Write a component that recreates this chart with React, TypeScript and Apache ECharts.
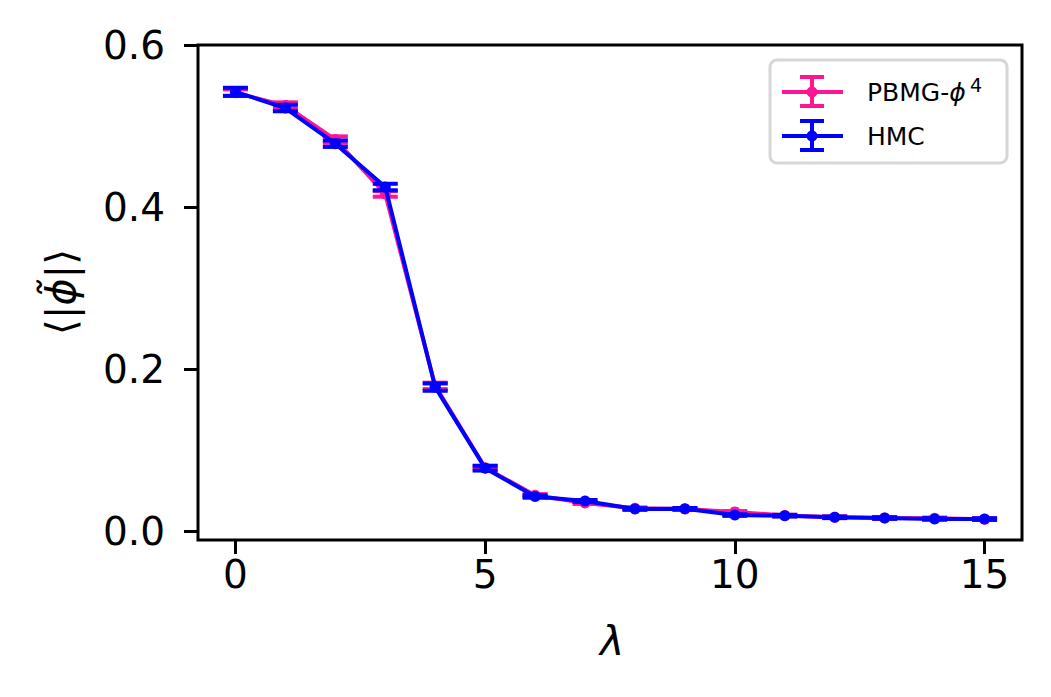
import React, { useEffect, useRef } from "react";
import * as echarts from "echarts";

const lambdas = [0, 1, 2, 3, 4, 5, 6, 7, 8, 9, 10, 11, 12, 13, 14, 15];
const pbmgValues = [0.542, 0.526, 0.484, 0.417, 0.180, 0.079, 0.045, 0.0355, 0.029, 0.028, 0.0245, 0.020, 0.018, 0.017, 0.0165, 0.0155];
const pbmgErrors = [0.004, 0.004, 0.004, 0.0035, 0.004, 0.002, 0.0015, 0.0012, 0.001, 0.001, 0.001, 0.001, 0.001, 0.001, 0.001, 0.001];
const hmcValues = [0.543, 0.523, 0.479, 0.4255, 0.1785, 0.0785, 0.0435, 0.038, 0.028, 0.0283, 0.0206, 0.0198, 0.0178, 0.0169, 0.0158, 0.0157];
const hmcErrors = [0.005, 0.004, 0.004, 0.004, 0.0045, 0.003, 0.0015, 0.0012, 0.001, 0.001, 0.001, 0.001, 0.001, 0.001, 0.001, 0.001];
const xTicks = [0, 5, 10, 15];
const yTicks = [0, 0.2, 0.4, 0.6];

const PINK = "#ff1493";
const BLUE = "#0000ff";
const FONT = "DejaVu Sans";

function errSeries(name: string, values: number[], errors: number[], color: string, z: number) {
  return {
    type: "custom",
    name,
    z,
    data: lambdas.map((x, i) => [x, values[i], errors[i]]),
    encode: { x: 0, y: 1 },
    renderItem: (params: any, api: any) => {
      const x = api.value(0);
      const y = api.value(1);
      const e = api.value(2);
      const t = api.coord([x, y + e]);
      const b = api.coord([x, y - e]);
      const h = 12.5;
      const st = { stroke: color, lineWidth: 4 };
      return {
        type: "group",
        children: [
          { type: "line", shape: { x1: t[0], y1: t[1], x2: b[0], y2: b[1] }, style: st },
          { type: "line", shape: { x1: t[0] - h, y1: t[1], x2: t[0] + h, y2: t[1] }, style: st },
          { type: "line", shape: { x1: b[0] - h, y1: b[1], x2: b[0] + h, y2: b[1] }, style: st },
        ],
      };
    },
  };
}

function lineSeries(name: string, values: number[], color: string, z: number) {
  return {
    type: "line",
    name,
    z,
    data: lambdas.map((x, i) => [x, values[i]]),
    symbol: "circle",
    symbolSize: 11,
    showSymbol: true,
    itemStyle: { color },
    lineStyle: { color, width: 4 },
  };
}

function legendEntry(y: number, color: string) {
  const st = { stroke: color, lineWidth: 4 };
  return [
    { type: "line", shape: { x1: 782, y1: y, x2: 843, y2: y }, style: st, z: 101 },
    { type: "line", shape: { x1: 812, y1: y - 15, x2: 812, y2: y + 14 }, style: st, z: 101 },
    { type: "line", shape: { x1: 800, y1: y - 15, x2: 824, y2: y - 15 }, style: st, z: 101 },
    { type: "line", shape: { x1: 800, y1: y + 14, x2: 824, y2: y + 14 }, style: st, z: 101 },
    { type: "circle", shape: { cx: 812, cy: y, r: 5.5 }, style: { fill: color }, z: 102 },
  ];
}

export default function App() {
  const ref = useRef<HTMLDivElement>(null);
  useEffect(() => {
    if (!ref.current) return;
    const chart = echarts.init(ref.current, null, { renderer: "svg" });
    const labelStyle = { color: "#000", fontSize: 39, fontFamily: FONT, lineHeight: 39 };
    chart.setOption({
      animation: false,
      backgroundColor: "#fff",
      grid: {
        left: 198,
        top: 45,
        width: 824,
        height: 495,
        show: true,
        borderColor: "#000",
        borderWidth: 3,
        backgroundColor: "transparent",
      },
      xAxis: {
        type: "value",
        min: -0.75,
        max: 15.75,
        splitLine: { show: false },
        axisLine: { show: false, onZero: false },
        axisTick: { show: true, customValues: xTicks, length: 14, lineStyle: { color: "#000", width: 3 } },
        axisLabel: { ...labelStyle, customValues: xTicks, margin: 15, formatter: (v: number) => String(v) },
      },
      yAxis: {
        type: "value",
        min: -0.0102,
        max: 0.6008,
        splitLine: { show: false },
        axisLine: { show: false, onZero: false },
        axisTick: { show: true, customValues: yTicks, length: 14, lineStyle: { color: "#000", width: 3 } },
        axisLabel: { ...labelStyle, customValues: yTicks, margin: 33, formatter: (v: number) => v.toFixed(1) },
      },
      series: [
        errSeries("PBMG-err", pbmgValues, pbmgErrors, PINK, 2),
        lineSeries("PBMG-ϕ4", pbmgValues, PINK, 3),
        errSeries("HMC-err", hmcValues, hmcErrors, BLUE, 4),
        lineSeries("HMC", hmcValues, BLUE, 5),
      ],
      graphic: [
        {
          type: "text",
          x: 612,
          y: 641,
          style: {
            text: "λ",
            fontSize: 41,
            fontStyle: "italic",
            fontFamily: FONT,
            fill: "#000",
            align: "center",
            verticalAlign: "middle",
          },
        },
        {
          type: "text",
          x: 61,
          y: 292,
          rotation: Math.PI / 2,
          style: {
            text: "{n|⟨|}{i|ϕ̃}{n||⟩}",
            fontSize: 41,
            fontFamily: FONT,
            fill: "#000",
            align: "center",
            verticalAlign: "middle",
            rich: {
              n: { fontSize: 41, fontFamily: FONT, fill: "#000" },
              i: { fontSize: 41, fontFamily: FONT, fontStyle: "italic", fill: "#000" },
            },
          },
        },
        {
          type: "rect",
          shape: { x: 770, y: 60, width: 237, height: 103, r: 7 },
          style: { fill: "rgba(255,255,255,0.8)", stroke: "#d6d6d6", lineWidth: 3 },
          z: 100,
        },
        ...legendEntry(92, PINK),
        ...legendEntry(136, BLUE),
        {
          type: "text",
          x: 867,
          y: 92,
          z: 103,
          style: {
            text: "{n|PBMG-}{i|ϕ}",
            fontSize: 25,
            fontFamily: FONT,
            fill: "#000",
            verticalAlign: "middle",
            rich: {
              n: { fontSize: 25, fontFamily: FONT, fill: "#000" },
              i: { fontSize: 25, fontFamily: FONT, fontStyle: "italic", fill: "#000" },
            },
          },
        },
        {
          type: "text",
          x: 970,
          y: 85,
          z: 103,
          style: { text: "4", fontSize: 19, fontFamily: FONT, fill: "#000", verticalAlign: "middle" },
        },
        {
          type: "text",
          x: 867,
          y: 136,
          z: 103,
          style: { text: "HMC", fontSize: 25, fontFamily: FONT, fill: "#000", verticalAlign: "middle" },
        },
      ],
    });
    return () => chart.dispose();
  }, []);
  return (
    <div
      ref={ref}
      style={{ position: "fixed", left: 0, top: 0, width: 1051, height: 697, background: "#fff" }}
    />
  );
}
